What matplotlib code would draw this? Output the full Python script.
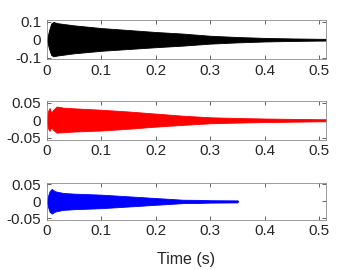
import numpy as np
import matplotlib
matplotlib.use('Agg')
import matplotlib.pyplot as plt

plt.rcParams['font.family'] = ['Liberation Sans', 'DejaVu Sans']

# envelopes (time in s, amplitude upper / lower)
t_black = [0.0, 0.004, 0.008, 0.012, 0.02, 0.05, 0.1, 0.15, 0.2, 0.25, 0.3, 0.35, 0.4, 0.45, 0.5, 0.512]
up_black = [0.0, 0.05, 0.09, 0.099, 0.092, 0.08, 0.065, 0.054, 0.043, 0.034, 0.022, 0.015, 0.01, 0.007, 0.005, 0.005]
lo_black = [0.0, 0.05, 0.085, 0.093, 0.088, 0.076, 0.062, 0.052, 0.042, 0.033, 0.022, 0.015, 0.01, 0.007, 0.005, 0.005]

t_red = [0.0, 0.002, 0.005, 0.008, 0.012, 0.018, 0.03, 0.05, 0.1, 0.15, 0.2, 0.25, 0.3, 0.35, 0.4, 0.45, 0.5, 0.512]
up_red = [0.0, 0.025, 0.035, 0.022, 0.03, 0.039, 0.036, 0.034, 0.03, 0.025, 0.019, 0.013, 0.0085, 0.0065, 0.005, 0.004, 0.003, 0.003]
lo_red = [0.0, 0.022, 0.03, 0.02, 0.028, 0.035, 0.034, 0.032, 0.029, 0.024, 0.018, 0.013, 0.0085, 0.0065, 0.005, 0.004, 0.003, 0.003]

t_blue = [0.0, 0.002, 0.005, 0.009, 0.015, 0.03, 0.05, 0.1, 0.15, 0.2, 0.25, 0.28, 0.3, 0.35]
up_blue = [0.0, 0.015, 0.03, 0.037, 0.03, 0.025, 0.023, 0.02, 0.015, 0.01, 0.005, 0.0045, 0.0035, 0.003]
lo_blue = [0.0, 0.015, 0.03, 0.036, 0.03, 0.025, 0.023, 0.02, 0.015, 0.01, 0.005, 0.0045, 0.0035, 0.003]

xticks = [0, 0.1, 0.2, 0.3, 0.4, 0.5]
xlim = (0, 0.5125)

panels = [
    (t_black, up_black, lo_black, 'k', 0.11, [-0.1, 0, 0.1], ['-0.1', '0', '0.1'], [0.130, 0.780, 0.776, 0.146]),
    (t_red, up_red, lo_red, '#ff0000', 0.056, [-0.05, 0, 0.05], ['-0.05', '0', '0.05'], [0.130, 0.4815, 0.776, 0.146]),
    (t_blue, up_blue, lo_blue, '#0000ff', 0.055, [-0.05, 0, 0.05], ['-0.05', '0', '0.05'], [0.130, 0.185, 0.776, 0.138]),
]

fig = plt.figure(figsize=(3.6, 2.7), dpi=100)
for t, up, lo, col, ylim, yt, ytl, pos in panels:
    ax = fig.add_axes(pos)
    t = np.array(t)
    ax.fill_between(t, np.array(up), -np.array(lo), color=col, lw=0.6, edgecolor=col)
    ax.plot(t, np.zeros_like(t), color=col, lw=0.8)
    ax.set_xlim(*xlim)
    ax.set_ylim(-ylim, ylim)
    ax.set_xticks(xticks)
    ax.set_xticklabels(['0', '0.1', '0.2', '0.3', '0.4', '0.5'])
    ax.set_yticks(yt)
    ax.set_yticklabels(ytl)
    ax.tick_params(direction='in', length=3, width=0.5, colors='0.15', labelsize=11,
                   top=True, right=True, pad=3)
    ax.tick_params(axis='y', pad=4)
    for s in ax.spines.values():
        s.set_color('0.55')
        s.set_linewidth(0.6)
    if col == '#0000ff':
        ax.set_xlabel('Time (s)', fontsize=11.5, color='0.15', labelpad=10)

fig.savefig('out.png', dpi=100)
